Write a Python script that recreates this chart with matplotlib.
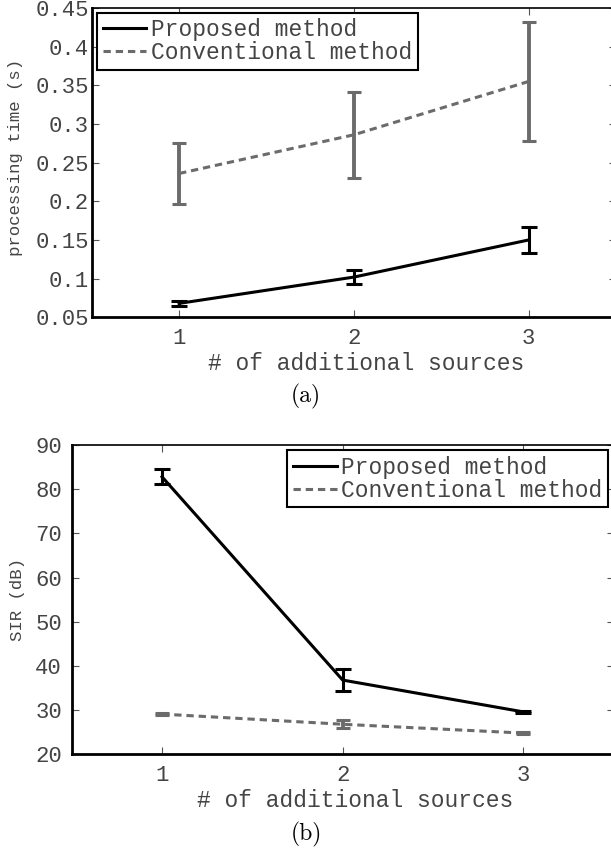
import numpy as np
import matplotlib
matplotlib.use("Agg")
import matplotlib.pyplot as plt

INK, TXT, GRAY = "#000000", "#444444", "#6b6b6b"
MONO = ["Liberation Mono", "DejaVu Sans Mono"]

# data
sources = [1, 2, 3]
time_prop = [0.068, 0.102, 0.150]
time_prop_err = [0.003, 0.0095, 0.017]
time_conv = [0.236, 0.286, 0.355]
time_conv_err = [0.040, 0.056, 0.077]
sir_prop = [82.8, 36.8, 29.6]
sir_prop_err = [1.7, 2.4, 0.15]
sir_conv = [29.1, 26.8, 24.8]
sir_conv_err = [0.3, 0.85, 0.15]
labels = ["Proposed method", "Conventional method"]

W, H = 611, 849
fig = plt.figure(figsize=(W / 100, H / 100), dpi=100)


def px_axes(l, t, r, b):
    return fig.add_axes([l / W, 1 - b / H, (r - l) / W, (b - t) / H])


def panel(ax, yp, ype, yc, yce, ylim, yticks, ylabel, ypad):
    ax.errorbar(sources, yc, yerr=yce, fmt="none", ecolor=GRAY,
                elinewidth=2.8, capsize=5, capthick=2.2, zorder=2)
    ax.errorbar(sources, yp, yerr=ype, fmt="none", ecolor=INK,
                elinewidth=2.2, capsize=5.5, capthick=2.2, zorder=3)
    ax.plot(sources, yp, color=INK, lw=2.2, label=labels[0], zorder=4)
    ax.plot(sources, yc, color=GRAY, lw=2.2, ls=(0, (2.4, 1.6)),
            label=labels[1], zorder=2)
    ax.set_xlim(0.5, 3.5)
    ax.set_ylim(*ylim)
    ax.set_xticks(sources)
    ax.set_xticklabels([str(s) for s in sources])
    ax.set_yticks(yticks)
    ax.set_yticklabels(["%g" % v for v in yticks])
    ax.tick_params(direction="in", top=True, right=True, length=5,
                   width=0.8, colors="#555555", labelcolor=TXT)
    ax.tick_params(axis="x", pad=8)
    ax.tick_params(axis="y", pad=ypad)
    for lab in ax.get_xticklabels() + ax.get_yticklabels():
        lab.set_family(MONO)
        lab.set_fontsize(16)
    for side in ("left", "bottom"):
        ax.spines[side].set_linewidth(2.0)
    for side in ("top", "right"):
        ax.spines[side].set_linewidth(1.2)
    ax.set_xlabel("# of additional sources", family=MONO, fontsize=16.5,
                  color=TXT)
    ax.xaxis.label.set_va("center")
    ax.xaxis.set_label_coords(0.523, -0.150)
    ax.set_ylabel(ylabel, family=MONO, fontsize=12.5, color=TXT)
    ax.yaxis.label.set_va("center")


def legend(ax, loc, anchor):
    leg = ax.legend(loc=loc, bbox_to_anchor=anchor, borderaxespad=0,
                    prop={"family": MONO, "size": 16.5},
                    handlelength=1.9, handletextpad=0.2, labelspacing=0.0,
                    borderpad=0.25, fancybox=False, framealpha=1,
                    edgecolor=INK)
    leg.get_frame().set_linewidth(1.5)
    for t in leg.get_texts():
        t.set_color(TXT)


# (a) processing time
ax1 = px_axes(91.7, 8, 616, 317.3)
panel(ax1, time_prop, time_prop_err, time_conv, time_conv_err,
      (0.05, 0.45), [0.05, 0.1, 0.15, 0.2, 0.25, 0.3, 0.35, 0.4, 0.45],
      "processing time (s)", 2)
ax1.yaxis.set_label_coords(-0.146, 0.517)
legend(ax1, "upper left", (0.0101, 0.985))

# (b) SIR
ax2 = px_axes(71.7, 445, 613.6, 754.3)
panel(ax2, sir_prop, sir_prop_err, sir_conv, sir_conv_err,
      (20, 90), [20, 30, 40, 50, 60, 70, 80, 90], "SIR (dB)", 7)
ax2.yaxis.set_label_coords(-0.100, 0.5)
legend(ax2, "upper right", (0.990, 0.984))

fig.text(306 / W, 1 - 396 / H, "(a)", ha="center", va="center",
         family=["cmr10", "DejaVu Serif"], fontsize=17, color=INK)
fig.text(306.5 / W, 1 - 834 / H, "(b)", ha="center", va="center",
         family=["cmr10", "DejaVu Serif"], fontsize=17, color=INK)

fig.savefig("out.png", dpi=100)
